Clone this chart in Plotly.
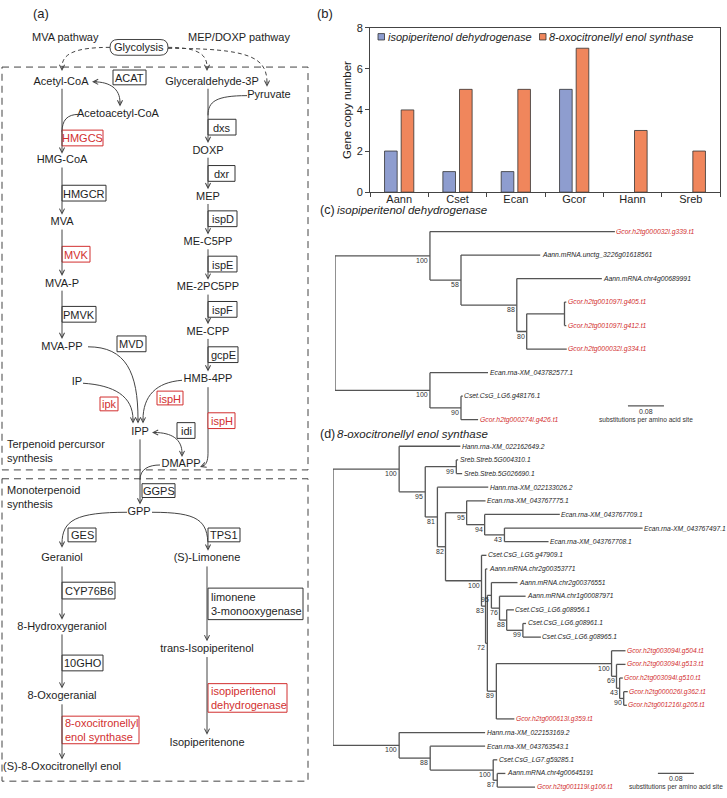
import plotly.graph_objects as go

W, H = 727, 798
FONT = "Liberation Sans, Arial, Helvetica, sans-serif"
INK = "#1e1e1e"
GREY = "#444444"
TREE = "#555555"
RED = "#d22f2f"
BLUE = "#8e9dcf"
ORANGE = "#f0865c"

# ------------------------------------------------------------------ data
panel_letters = ["(a)", "(b)", "(c)", "(d)"]

species = ["Aann", "Cset", "Ecan", "Gcor", "Hann", "Sreb"]
ipd_name = "isopiperitenol dehydrogenase"
oes_name = "8-oxocitronellyl enol synthase"
ipd_copies = [2, 1, 1, 5, 0, 0]
oes_copies = [4, 5, 5, 7, 3, 2]
copy_ticks = [0, 2, 4, 6, 8]
copy_title = "Gene copy number"

tree_c_newick = (
    "((Gcor.h2tg000032l.g339.t1:0.411,"
    "(Aann.mRNA.unctg_3226g01618561:0.176,"
    "(Aann.mRNA.chr4g00689991:0.189,"
    "((Gcor.h2tg001097l.g405.t1:0.004,Gcor.h2tg001097l.g412.t1:0.004):0.084,"
    "Gcor.h2tg000032l.g334.t1:0.089)80:0.022)88:0.124)58:0.069)100:0.211,"
    "(Ecan.rna-XM_043782577.1:0.129,"
    "(Cset.CsG_LG6.g48176.1:0.004,Gcor.h2tg000274l.g426.t1:0.038)90:0.069)100:0.211);"
)

tree_d_newick = (
    "((Hann.rna-XM_022162649.2:0.136,"
    "((Sreb.Streb.5G004310.1:0.004,Sreb.Streb.5G026690.1:0.013)99:0.069,"
    "(Hann.rna-XM_022133026.2:0.113,"
    "((Ecan.rna-XM_043767775.1:0.042,"
    "(Ecan.rna-XM_043767709.1:0.167,"
    "(Ecan.rna-XM_043767497.1:0.307,Ecan.rna-XM_043767708.1:0.098)43:0.044)94:0.040)95:0.047,"
    "(Cset.CsG_LG5.g47909.1:0.011,"
    "(Aann.mRNA.chr2g00353771:0.004,"
    "((Aann.mRNA.chr2g00376551:0.058,"
    "(Aann.mRNA.chr1g00087971:0.058,"
    "(Cset.CsG_LG6.g08956.1:0.016,"
    "(Cset.CsG_LG6.g08961.1:0.007,Cset.CsG_LG6.g08965.1:0.040)99:0.036)88:0.016)76:0.018)95:0.009,"
    "((Gcor.h2tg003094l.g504.t1:0.031,"
    "(Gcor.h2tg003094l.g513.t1:0.020,"
    "(Gcor.h2tg003094l.g510.t1:0.007,"
    "(Gcor.h2tg000026l.g362.t1:0.009,Gcor.h2tg001216l.g205.t1:0.007)90:0.009)43:0.007)69:0.011)100:0.256,"
    "Gcor.h2tg000613l.g359.t1:0.040)89:0.020"
    ")72:0.004)83:0.009)100:0.080"
    ")82:0.018)81:0.027)95:0.058)100:0.147,"
    "(Hann.rna-XM_022153169.2:0.191,"
    "(Ecan.rna-XM_043763543.1:0.122,"
    "(Cset.CsG_LG7.g59285.1:0.009,"
    "(Aann.mRNA.chr4g00645191:0.018,Gcor.h2tg001119l.g106.t1:0.084)87:0.009)100:0.140)88:0.069)100:0.147"
    ");"
)
scale_bar_length = 0.08
scale_bar_text = "0.08"
scale_bar_unit = "substitutions per amino acid site"
highlight_prefix = "Gcor"

pathway_headers = ["MVA pathway", "MEP/DOXP pathway"]
source_name = "Glycolysis"
metabolites = ["Acetyl-CoA", "Acetoacetyl-CoA", "HMG-CoA", "MVA", "MVA-P", "MVA-PP", "IP", "IPP",
               "DMAPP", "GPP", "Geraniol", "8-Hydroxygeraniol", "8-Oxogeranial",
               "(S)-8-Oxocitronellyl enol", "(S)-Limonene", "trans-Isopiperitenol", "Isopiperitenone",
               "Glyceraldehyde-3P", "Pyruvate", "DOXP", "MEP", "ME-C5PP", "ME-2PC5PP", "ME-CPP", "HMB-4PP"]
enzymes = ["ACAT", "HMGCS", "HMGCR", "MVK", "PMVK", "MVD", "ipk", "ispH", "ispH", "idi",
           "dxs", "dxr", "ispD", "ispE", "ispF", "gcpE", "GGPS", "GES", "TPS1", "CYP76B6", "10GHO",
           "limonene<br>3-monooxygenase", "8-oxocitronellyl<br>enol synthase", "isopiperitenol<br>dehydrogenase"]
highlighted_enzymes = ["HMGCS", "MVK", "ipk", "ispH",
                       "8-oxocitronellyl<br>enol synthase", "isopiperitenol<br>dehydrogenase"]
region_labels = ["Terpenoid percursor<br>synthesis", "Monoterpenoid<br>synthesis"]

# ------------------------------------------------------------------ layout (pixel positions)
met_xy = [(61, 77), (118, 110), (62, 157), (62, 220), (62, 282), (62, 346), (77, 382), (140, 433),
          (181, 465), (139, 514), (62, 561), (62, 631), (62, 701), (62, 773), (207, 561), (207, 653),
          (207, 748), (212, 77), (269, 91), (208, 147), (208, 194), (208, 240), (208, 286), (208, 331),
          (208, 379)]
enz_box = [(113, 65, 146, 80), (62, 126, 103, 142), (62, 182, 106, 198), (62, 244, 90, 260),
           (62, 305, 96, 321), (117, 335, 146, 351), (100, 397, 118, 411), (157, 391, 183, 405),
           (208, 413, 235, 429), (177, 423, 195, 439), (208, 115, 236, 131), (208, 162, 235, 178),
           (208, 208, 237, 224), (208, 254, 237, 270), (208, 300, 237, 316), (208, 346, 238, 362),
           (142, 485, 175, 499), (68, 530, 96, 544), (208, 530, 240, 544), (62, 585, 115, 602),
           (62, 659, 103, 675), (208, 591, 303, 623), (62, 721, 139, 749), (208, 688, 287, 717)]

PX, PY = "x4", "y4"


def dx(p):
    return p / W


def dy(p):
    return 1 - p / H


fig = go.Figure()
shapes = []
annots = []


def ann(x, y, text, size=11, color=INK, xanchor="center", yanchor="middle", xref=PX, yref=PY,
        align="center", xshift=0, yshift=0, angle=0):
    annots.append(dict(x=x, y=y, xref=xref, yref=yref, text=text, showarrow=False,
                       font=dict(family=FONT, size=size, color=color), xanchor=xanchor,
                       yanchor=yanchor, align=align, xshift=xshift, yshift=yshift,
                       textangle=angle, borderpad=0, borderwidth=0))


def arrow(x0, y0, x1, y1, color=GREY):
    annots.append(dict(x=x1, y=y1, ax=x0, ay=y0, xref=PX, yref=PY, axref=PX, ayref=PY,
                       text="", showarrow=True, arrowhead=5, arrowsize=1, arrowwidth=1,
                       arrowcolor=color, standoff=0, startstandoff=0, borderpad=0, borderwidth=0))


def path(d, dash=None, color=GREY):
    shapes.append(dict(type="path", path=d, xref=PX, yref=PY,
                       line=dict(color=color, width=1, dash=dash) if dash else dict(color=color, width=1)))


def head(tip, back):
    arrow(back[0], back[1], tip[0], tip[1])


# ------------------------------------------------------------------ (b) bar chart
for vals, nm, col in [(ipd_copies, ipd_name, BLUE), (oes_copies, oes_name, ORANGE)]:
    fig.add_trace(go.Bar(x=species, y=vals, name=nm, xaxis="x", yaxis="y",
                         marker=dict(color=col, line=dict(color="#333",
                                                          width=[0.8 if v > 0 else 0 for v in vals])),
                         showlegend=False, hoverinfo="skip"))

# custom legend
for i, (nm, col) in enumerate([(ipd_name, BLUE), (oes_name, ORANGE)]):
    x0 = [378, 539.5][i]
    shapes.append(dict(type="rect", xref=PX, yref=PY, x0=x0, x1=x0 + 6.5, y0=28, y1=34.5,
                       fillcolor=col, line=dict(color="#333", width=0.8)))
    ann(x0 + 9.5, 31.5, "<i>" + nm + "</i>", size=11, xanchor="left")
ann(347, 105.5, copy_title, size=11.5, angle=-90)


# ------------------------------------------------------------------ trees
def parse_newick(s):
    pos = [0]

    def node():
        n = {"children": [], "name": "", "length": 0.0}
        if s[pos[0]] == "(":
            pos[0] += 1
            while True:
                n["children"].append(node())
                if s[pos[0]] == ",":
                    pos[0] += 1
                    continue
                if s[pos[0]] == ")":
                    pos[0] += 1
                    break
        st = pos[0]
        while s[pos[0]] not in ":,();":
            pos[0] += 1
        n["name"] = s[st:pos[0]]
        if s[pos[0]] == ":":
            pos[0] += 1
            st = pos[0]
            while s[pos[0]] not in ",();":
                pos[0] += 1
            n["length"] = float(s[st:pos[0]])
        return n

    return node()


def draw_tree(newick, xa, ya, leaf_font, boot_font):
    root = parse_newick(newick)
    nodes = []
    cnt = [0]

    def assign(n, px):
        n["px"] = px
        n["x"] = px + n["length"]
        nodes.append(n)
        if n["children"]:
            for c in n["children"]:
                assign(c, n["x"])
            n["y"] = (n["children"][0]["y"] + n["children"][-1]["y"]) / 2
        else:
            n["y"] = cnt[0]
            cnt[0] += 1

    assign(root, 0.0)
    xs, ys = [], []
    for n in nodes:
        if n is not root:
            xs += [n["px"], n["x"], None]
            ys += [n["y"], n["y"], None]
        if n["children"]:
            xs += [n["x"], n["x"], None]
            ys += [n["children"][0]["y"], n["children"][-1]["y"], None]
    fig.add_trace(go.Scatter(x=xs, y=ys, mode="lines", xaxis=xa, yaxis=ya,
                             line=dict(color=TREE, width=1.3), hoverinfo="skip",
                             showlegend=False, cliponaxis=False))
    for n in nodes:
        if not n["children"]:
            col = RED if n["name"].startswith(highlight_prefix) else INK
            ann(n["x"], n["y"], "<i>" + n["name"] + "</i>", size=leaf_font, color=col,
                xanchor="left", xref=xa, yref=ya, xshift=1.5)
        elif n["name"] and n is not root:
            ann(n["x"], n["y"], n["name"], size=boot_font, color="#333", xanchor="right",
                yanchor="top", xref=xa, yref=ya, xshift=-2, yshift=-1)
    return nodes


def scale_bar(xa, ya, x0, y0):
    fig.add_trace(go.Scatter(x=[x0, x0 + scale_bar_length], y=[y0, y0], mode="lines",
                             xaxis=xa, yaxis=ya, line=dict(color=TREE, width=1.3),
                             hoverinfo="skip", showlegend=False, cliponaxis=False))
    xm = x0 + scale_bar_length / 2
    ann(xm, y0, scale_bar_text, size=7, color="#333", yanchor="top", xref=xa, yref=ya, yshift=-2)
    ann(xm, y0, scale_bar_unit, size=6.6, color="#333", yanchor="top", xref=xa, yref=ya, yshift=-10)


draw_tree(tree_c_newick, "x2", "y2", 6.8, 7)
scale_bar("x2", "y2", 0.651, 7.41)
draw_tree(tree_d_newick, "x3", "y3", 6.7, 7)
scale_bar("x3", "y3", 0.722, 23.99)

# panel titles
ann(33, 8, panel_letters[0], size=13, xanchor="left")
ann(317, 8, panel_letters[1], size=13, xanchor="left")
ann(320, 207, panel_letters[2], size=12.5, xanchor="left")
ann(337, 207, "<i>" + ipd_name + "</i>", size=11.5, xanchor="left")
ann(320, 435, panel_letters[3], size=12.5, xanchor="left")
ann(337, 435, "<i>" + oes_name + "</i>", size=11.5, xanchor="left")

# ------------------------------------------------------------------ (a) pathway
shapes.append(dict(type="rect", xref=PX, yref=PY, x0=2, x1=308, y0=62, y1=471,
                   line=dict(color=GREY, width=1, dash="7px,5px")))
shapes.append(dict(type="rect", xref=PX, yref=PY, x0=2, x1=308, y0=480, y1=787,
                   line=dict(color=GREY, width=1, dash="7px,5px")))
ann(7, 452, region_labels[0], size=11, xanchor="left", align="left")
ann(7, 498.5, region_labels[1], size=11, xanchor="left", align="left")

ann(65, 31, pathway_headers[0], size=11)
ann(239, 31, pathway_headers[1], size=11)
shapes.append(dict(type="path", xref=PX, yref=PY,
                   path="M118,34 L160,34 Q168,34 168,42 Q168,50 160,50 L118,50 Q110,50 110,42 Q110,34 118,34 Z",
                   line=dict(color=GREY, width=1), fillcolor="white"))
ann(139, 42, source_name, size=11)

# dashed glycolysis arrows
path("M110,42 C76,42 62,48 62,62", dash="4px,3px")
head((62, 66), (62, 61))
path("M168,42 C196,42 207,48 207,62", dash="4px,3px")
head((207, 66), (207, 61))
path("M168,43 C250,43 267,52 267,78", dash="4px,3px")
head((267, 82), (267, 77))

# straight arrows
straight = [(62, 84, 150), (62, 164, 212), (62, 227, 274), (62, 289, 338),
            (208, 84, 139), (208, 154, 186), (208, 201, 232), (208, 247, 278), (208, 293, 323),
            (208, 338, 371), (140, 440, 506), (62, 569, 623), (62, 638, 693), (62, 709, 765),
            (207, 569, 645), (207, 661, 740)]
for x, y0, y1 in straight:
    arrow(x, y0, x, y1)

# curved links
path("M94,77 C110,77 120,84 120,98")
head((92, 77), (97, 77))
head((120, 102), (120, 97))
path("M79,110 C67,110 62,116 62,128")
path("M247,91 C216,91 208,97 208,111")
path("M88,346 C126,346 138,372 138,420")
head((138, 424), (138, 419))
path("M83,383 C114,385 133,396 133,420")
head((133, 424), (133, 419))
path("M182,380 C156,382 143,396 143,420")
head((143, 424), (143, 419))
path("M154,433 C172,433 182,440 182,454")
head((152, 433), (157, 433))
head((182, 458), (182, 453))
path("M208,387 L208,454 C208,462 206,466 203,467")
head((200, 468), (204, 466.5))
path("M160,466 C149,466 140,470 140,481")
path("M127,514 C76,514 62,522 62,546")
head((62, 550), (62, 545))
path("M152,514 C198,514 208,522 208,549")
head((208, 553), (208, 548))

# enzyme boxes
for name, (x0, y0, x1, y1) in zip(enzymes, enz_box):
    red = name in highlighted_enzymes
    col = RED if red else "#333"
    shapes.append(dict(type="rect", xref=PX, yref=PY, x0=x0, x1=x1, y0=y0, y1=y1,
                       line=dict(color=col, width=1), fillcolor="white"))
    if "<br>" in name:
        ann(x0 + 2.5, (y0 + y1) / 2, name, size=11, color=RED if red else INK,
            xanchor="left", align="left")
    else:
        ann((x0 + x1) / 2, (y0 + y1) / 2 + 0.5, name, size=11, color=RED if red else INK)

# metabolite labels
fig.add_trace(go.Scatter(x=[p[0] for p in met_xy], y=[p[1] for p in met_xy], text=metabolites,
                         mode="text", textposition="middle center", xaxis=PX, yaxis=PY,
                         textfont=dict(family=FONT, size=11, color=INK), hoverinfo="skip",
                         showlegend=False, cliponaxis=False))

# ------------------------------------------------------------------ layout
hidden = dict(visible=False, showgrid=False, zeroline=False, fixedrange=True)
fig.update_layout(
    width=W, height=H, autosize=False,
    margin=dict(l=0, r=0, t=0, b=0, pad=0),
    paper_bgcolor="white", plot_bgcolor="rgba(0,0,0,0)",
    font=dict(family=FONT, size=11, color=INK),
    barmode="group", bargap=0.43, bargroupgap=0.24,
    showlegend=False,
    xaxis=dict(domain=[dx(370), dx(720)], anchor="y", showline=True, linecolor=GREY, linewidth=1,
               mirror=True, ticks="outside", tickson="boundaries", ticklen=4, tickcolor=GREY,
               ticklabelstandoff=-3,
               tickfont=dict(size=11, color=INK), showgrid=False, zeroline=False),
    yaxis=dict(domain=[dy(189), dy(22)], anchor="x", range=[0, 8], tickvals=copy_ticks,
               showline=True, linecolor=GREY, linewidth=1, mirror=True, ticks="outside",
               ticklen=4, tickcolor=GREY, tickfont=dict(size=11, color=INK), showgrid=False,
               zeroline=False),
    xaxis2=dict(domain=[dx(335), 1], anchor="y2", range=[0, (727 - 335) / 450], **hidden),
    yaxis2=dict(domain=[dy(432), dy(212)], anchor="x2",
                range=[(432 - 229) / 23.875, (212 - 229) / 23.875], **hidden),
    xaxis3=dict(domain=[dx(333), 1], anchor="y3", range=[0, (727 - 333) / 450], **hidden),
    yaxis3=dict(domain=[0, dy(440)], anchor="x3",
                range=[(798 - 447) / 13.84, (440 - 447) / 13.84], **hidden),
    xaxis4=dict(domain=[0, 1], anchor="y4", range=[0, W], **hidden),
    yaxis4=dict(domain=[0, 1], anchor="x4", range=[H, 0], **hidden),
    shapes=shapes,
    annotations=annots,
)

fig.write_html("out.html", config={"displayModeBar": False, "staticPlot": True},
               post_script="document.body.style.margin='0px';document.body.style.overflow='hidden';")
